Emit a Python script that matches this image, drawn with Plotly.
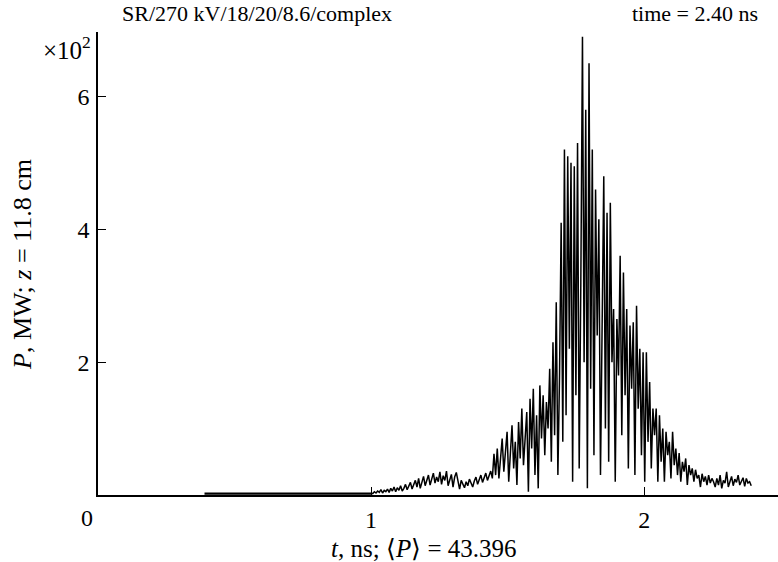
import plotly.graph_objects as go

# flat leading part (t in ns, P in units of 1e2 MW)
flat_t = [0.39, 1.0]
flat_p = [0.02, 0.02]

# sampled trace starting at T_START with step DT
T_START = 1.0
DT = 0.006
seg_a = [0.03, 0.02, 0.05, 0.03, 0.06, 0.04, 0.08, 0.03, 0.07, 0.05, 0.09, 0.04, 0.10, 0.06, 0.12, 0.05,
         0.11, 0.07, 0.14, 0.06, 0.10, 0.16, 0.08, 0.13, 0.19, 0.09, 0.15, 0.22, 0.12, 0.25, 0.10, 0.18,
         0.28, 0.14, 0.21, 0.30, 0.15, 0.24, 0.33, 0.18, 0.27, 0.20, 0.35, 0.16, 0.29, 0.22, 0.36, 0.14,
         0.25, 0.31, 0.12, 0.27, 0.34, 0.19, 0.09, 0.22, 0.15, 0.11, 0.20, 0.14, 0.24, 0.18, 0.12, 0.21,
         0.27, 0.16, 0.23, 0.30, 0.19, 0.26, 0.33, 0.22, 0.29, 0.36, 0.25]
seg_b = [0.62, 0.30, 0.70, 0.25, 0.55, 0.85, 0.35, 0.60, 0.95, 0.20, 0.75, 1.05, 0.40, 0.80, 0.15, 1.10,
         0.55, 1.30, 0.45, 0.90, 1.25, 0.05, 1.45, 0.70, 1.60, 0.30, 1.20, 0.10, 1.65, 0.85, 1.50, 0.60,
         1.40, 1.00]
seg_c = [1.90, 0.50, 2.30, 0.90, 2.90, 0.30, 1.80, 4.10, 0.80, 5.20, 1.20, 5.10, 2.20, 5.00, 0.20, 4.95,
         1.50, 5.30, 0.40, 3.20, 6.90, 2.00, 5.80, 0.10, 6.50, 1.60, 5.20, 0.60, 4.60, 2.40, 4.15, 0.30,
         3.00, 4.80]
seg_d = [1.00, 4.25, 0.50, 4.40, 2.00, 2.80, 0.20, 2.65, 1.80, 3.60, 0.90, 3.35, 1.50, 2.80, 0.40, 2.55,
         1.60, 2.60, 0.30, 2.85, 1.30, 2.20, 0.60, 2.15, 0.20, 2.15, 0.80, 1.70, 0.40, 1.30, 0.90, 1.30,
         0.20]
seg_e = [1.20, 0.50, 1.00, 0.20, 0.95, 0.60, 0.80, 0.25, 0.95, 0.45, 0.70, 0.30, 0.63, 0.20, 0.50, 0.35,
         0.55, 0.15, 0.45, 0.30, 0.40, 0.20, 0.38, 0.25, 0.30, 0.12, 0.32, 0.20, 0.28, 0.15, 0.30, 0.18,
         0.25]
seg_f = [0.20, 0.12, 0.25, 0.15, 0.30, 0.10, 0.22, 0.18, 0.35, 0.12, 0.20, 0.28, 0.14, 0.24, 0.19, 0.30,
         0.15, 0.22, 0.26, 0.13, 0.25, 0.18, 0.20, 0.14]

p_vals = seg_a + seg_b + seg_c + seg_d + seg_e + seg_f
t_vals = [T_START + DT * i for i in range(len(p_vals))]

x_ticks = [1, 2]
y_ticks = [2, 4, 6]

FONT = "Liberation Serif, Times New Roman, serif"

fig = go.Figure()
fig.add_trace(go.Scatter(x=flat_t, y=flat_p, mode="lines",
                         line=dict(color="black", width=2.2), hoverinfo="skip"))
fig.add_trace(go.Scatter(x=t_vals, y=p_vals, mode="lines",
                         line=dict(color="black", width=1.5), hoverinfo="skip"))

W, H = 778, 562
L, R, T, B = 98, 0, 32, 67
pw, ph = W - L - R, H - T - B

def px(x):
    return (x - L) / pw

def py(y):
    return (H - B - y) / ph

tickfont = dict(family=FONT, size=24, color="black")

fig.update_layout(
    width=W, height=H,
    margin=dict(l=L, r=R, t=T, b=B),
    paper_bgcolor="white", plot_bgcolor="white",
    showlegend=False,
    font=dict(family=FONT, size=21, color="black"),
    xaxis=dict(range=[0, 2.49], tickvals=x_ticks, ticktext=[str(v) for v in x_ticks],
               ticks="inside", ticklen=8, tickcolor="black", tickwidth=1,
               tickfont=tickfont, ticklabelstandoff=2,
               showline=True, linecolor="black", linewidth=1.5,
               showgrid=False, zeroline=False, fixedrange=True),
    yaxis=dict(range=[0, 6.97], tickvals=y_ticks, ticktext=[str(v) for v in y_ticks],
               ticks="inside", ticklen=8, tickcolor="black", tickwidth=1,
               tickfont=tickfont, ticklabelstandoff=2,
               showline=True, linecolor="black", linewidth=1.5,
               showgrid=False, zeroline=False, fixedrange=True),
)

ann = [
    dict(text="SR/270 kV/18/20/8.6/complex", x=px(120), y=py(14), xanchor="left", yanchor="middle", size=22),
    dict(text="time = 2.40 ns", x=px(760), y=py(14), xanchor="right", yanchor="middle", size=22),
    dict(text="×10<sup>2</sup>", x=px(93), y=py(48), xanchor="right", yanchor="middle", size=25),
    dict(text="0", x=px(87), y=py(518), xanchor="center", yanchor="middle", size=24),
    dict(text="<i>t</i>, ns; ⟨<i>P</i>⟩ = 43.396", x=px(424), y=py(548), xanchor="center", yanchor="middle",
         size=25),
    dict(text="<i>P</i>, MW; <i>z</i> = 11.8 cm", x=px(22), y=py(265), xanchor="center", yanchor="middle",
         textangle=-90, size=26),
]
for a in ann:
    size = a.pop("size")
    fig.add_annotation(xref="paper", yref="paper", showarrow=False,
                       font=dict(family=FONT, size=size, color="black"), **a)

fig.write_html("out.html")
